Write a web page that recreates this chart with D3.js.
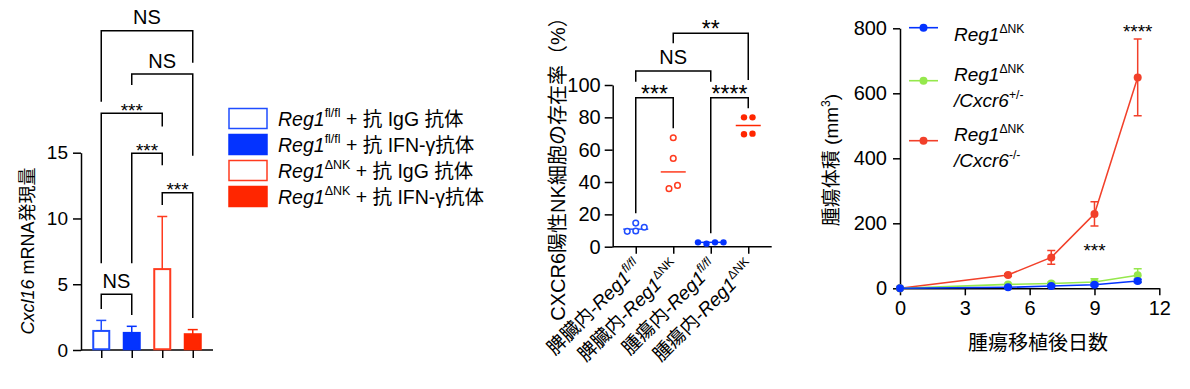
<!DOCTYPE html>
<html>
<head>
<meta charset="utf-8">
<script src="https://cdn.jsdelivr.net/npm/d3@7"></script>
<style>
  body { margin: 0; background: #fff; }
  text { font-family: 'Liberation Sans', Arial, 'Noto Sans CJK JP', sans-serif; fill: #000; }
</style>
</head>
<body>
<script>
// ---- panel 1: Cxcl16 bars ----
const barGroups = ["fl_IgG", "fl_IFN", "dNK_IgG", "dNK_IFN"];
const barMeans = [1.45, 1.3, 6.15, 1.2];
const barErrs = [0.8, 0.5, 4.0, 0.35];
const barColors = ["#1f4dff", "#0433ff", "#ff3b1f", "#ff2600"];
const barFilled = [false, true, false, true];
const barTicks = [0, 5, 10, 15];
// [from, to, label, top, leftEnd, rightEnd] in y units
const barSigs = [
  [0, 1, "NS", 4.23, 3.12, 2.66],
  [0, 2, "***", 18.0, 6.6, 17.0],
  [1, 2, "***", 14.95, 6.6, 14.04],
  [2, 3, "***", 11.96, 11.02, 2.43],
  [1, 3, "NS", 20.98, 20.15, 14.77],
  [0, 3, "NS", 24.28, 18.88, 21.84]
];
const legendRows = [
  [{t: "Reg1", i: true}, {t: "fl/fl", sup: true}, {t: " + 抗 IgG 抗体"}],
  [{t: "Reg1", i: true}, {t: "fl/fl", sup: true}, {t: " + 抗 IFN-γ抗体"}],
  [{t: "Reg1", i: true}, {t: "ΔNK", sup: true}, {t: " + 抗 IgG 抗体"}],
  [{t: "Reg1", i: true}, {t: "ΔNK", sup: true}, {t: " + 抗 IFN-γ抗体"}]
];

// ---- panel 2: CXCR6+ NK dots ----
const dotGroups = ["脾臓内-Reg1fl/fl", "脾臓内-Reg1ΔNK", "腫瘍内-Reg1fl/fl", "腫瘍内-Reg1ΔNK"];
const dotLabels = [
  [{t: "脾臓内-"}, {t: "Reg1", i: true}, {t: "fl/fl", sup: true, i: true}],
  [{t: "脾臓内-"}, {t: "Reg1", i: true}, {t: "ΔNK", sup: true}],
  [{t: "腫瘍内-"}, {t: "Reg1", i: true}, {t: "fl/fl", sup: true, i: true}],
  [{t: "腫瘍内-"}, {t: "Reg1", i: true}, {t: "ΔNK", sup: true}]
];
const dotValues = [
  [9.7, 12, 14.6, 9.5],
  [67.4, 54.6, 35.9, 37.9],
  [1.9, 2.7, 2.7, 2.7],
  [80, 80, 69.5, 69.9]
];
const dotColors = ["#1f4dff", "#ff3b1f", "#0433ff", "#ff2600"];
const dotFilled = [false, false, true, true];
const dotTicks = [0, 20, 40, 60, 80, 100];
const dotSigs = [
  [0, 1, "***", 92.1, 20.7, 73.2],
  [2, 3, "****", 92.1, 8.3, 85.6],
  [0, 2, "NS", 108.7, 102, 102],
  [1, 3, "**", 132, 125.8, 103.1]
];

// ---- panel 3: tumour volume ----
const days = [0, 5, 7, 9, 11];
const volBlue = [0, 3, 7, 11, 22.6];
const errBlue = [0, 2, 3, 4, 5];
const volGreen = [0, 12, 15, 19.5, 40];
const errGreen = [0, 3, 4, 10, 20];
const volRed = [0, 41, 95, 229, 649];
const errRed = [0, 4, 21, 37, 118];
const volTicksX = [0, 3, 6, 9, 12];
const volTicksY = [0, 200, 400, 600, 800];

const svg = d3.select("body").append("svg")
  .attr("width", 1190)
  .attr("height", 389);

// rich text: italics and superscripts
function rich(sel, parts, size) {
  let shift = 0;
  parts.forEach(p => {
    const ts = sel.append("tspan").text(p.t);
    if (p.i) ts.attr("font-style", "italic");
    const target = p.sup ? -size * 0.42 : 0;
    if (target !== shift) { ts.attr("dy", target - shift); shift = target; }
    if (p.sup) ts.attr("font-size", size * 0.64);
  });
}

function styleAxis(g, size) {
  g.selectAll("path, line").attr("stroke", "#000").attr("stroke-width", 1.5);
  g.selectAll("text").attr("font-size", size).attr("fill", "#000");
}

function brackets(g, sigs, xs, ys, fsStar, fsNS) {
  sigs.forEach(s => {
    const x1 = xs(s[0]), x2 = xs(s[1]);
    const top = ys(s[3]);
    g.append("path")
      .attr("d", `M${x1},${ys(s[4])}V${top}H${x2}V${ys(s[5])}`)
      .attr("fill", "none").attr("stroke", "#000").attr("stroke-width", 1.5);
    const ns = s[2] === "NS";
    g.append("text")
      .attr("x", (x1 + x2) / 2)
      .attr("y", ns ? top - 6.5 : top + fsStar * 0.18)
      .attr("text-anchor", "middle")
      .attr("font-size", ns ? fsNS : fsStar)
      .text(s[2]);
  });
}

// ================= panel 1 =================
const p1 = svg.append("g");
const y1 = d3.scaleLinear().domain([0, 15]).range([350, 152.7]);
const x1 = d3.scalePoint().domain(d3.range(4)).range([86, 208]).padding(0.5);
const barW = 18;

p1.append("g")
  .attr("transform", "translate(81,0)")
  .call(d3.axisLeft(y1).tickValues(barTicks).tickSize(8).tickSizeOuter(0).tickPadding(5))
  .call(g => styleAxis(g, 19));

p1.append("line").attr("x1", 81).attr("x2", 213).attr("y1", 350).attr("y2", 350)
  .attr("stroke", "#000").attr("stroke-width", 1.5);
p1.append("g")
  .attr("transform", "translate(0,350)")
  .call(d3.axisBottom(x1).tickSize(8).tickFormat(""))
  .call(g => g.select(".domain").remove())
  .call(g => styleAxis(g, 19));

barGroups.forEach((name, i) => {
  const cx = x1(i), col = barColors[i];
  // error bar (up only)
  p1.append("line").attr("x1", cx).attr("x2", cx)
    .attr("y1", y1(barMeans[i])).attr("y2", y1(barMeans[i] + barErrs[i]))
    .attr("stroke", col).attr("stroke-width", 1.5);
  p1.append("line").attr("x1", cx - 5).attr("x2", cx + 5)
    .attr("y1", y1(barMeans[i] + barErrs[i])).attr("y2", y1(barMeans[i] + barErrs[i]))
    .attr("stroke", col).attr("stroke-width", 1.5);
  p1.append("rect")
    .attr("x", cx - barW / 2 + 1).attr("width", barW - 2)
    .attr("y", y1(barMeans[i])).attr("height", y1(0) - y1(barMeans[i]) - 0.75)
    .attr("fill", barFilled[i] ? col : "#fff")
    .attr("stroke", col).attr("stroke-width", 2);
});

brackets(p1, barSigs, i => x1(i), y1, 19, 20);

p1.append("text")
  .attr("transform", "translate(34,251) rotate(-90)")
  .attr("text-anchor", "middle")
  .attr("font-size", 18)
  .call(t => rich(t, [{t: "Cxcl16", i: true}, {t: " mRNA発現量"}], 18));

// legend
legendRows.forEach((row, i) => {
  const cy = 118.5 + i * 26;
  p1.append("rect").attr("x", 229).attr("y", cy - 10).attr("width", 38).attr("height", 20)
    .attr("fill", barFilled[i] ? barColors[i] : "#fff")
    .attr("stroke", barColors[i]).attr("stroke-width", 1.5);
  p1.append("text").attr("x", 278).attr("y", cy + 7)
    .attr("font-size", 19.5)
    .call(t => rich(t, row, 19.5));
});

// ================= panel 2 =================
const p2 = svg.append("g");
const y2 = d3.scaleLinear().domain([0, 100]).range([246.7, 85]);
const x2 = d3.scalePoint().domain(d3.range(4)).range([617, 767]).padding(0.5);

p2.append("g")
  .attr("transform", "translate(612.7,0)")
  .call(d3.axisLeft(y2).tickValues(dotTicks).tickSize(8).tickSizeOuter(0).tickPadding(4))
  .call(g => styleAxis(g, 20));
p2.append("line").attr("x1", 612.7).attr("x2", 771.7).attr("y1", 246.7).attr("y2", 246.7)
  .attr("stroke", "#000").attr("stroke-width", 1.5);
p2.append("g")
  .attr("transform", "translate(0,246.7)")
  .call(d3.axisBottom(x2).tickSize(7).tickFormat(""))
  .call(g => g.select(".domain").remove())
  .call(g => styleAxis(g, 20));

// simple beeswarm offsets
const dotR = 3.2, dotStep = 8.5;
dotValues.forEach((vals, gi) => {
  const placed = [];
  vals.forEach(v => {
    const py = y2(v);
    const cands = [0, dotStep, -dotStep, 2 * dotStep, -2 * dotStep, 3 * dotStep];
    const dx = cands.find(c => placed.every(p => Math.hypot(p.dx - c, p.py - py) >= 7));
    placed.push({v, py, dx});
  });
  // centre each cluster of touching points
  const clusters = [];
  placed.forEach(p => {
    const c = clusters.find(cl => cl.some(q => Math.abs(q.py - p.py) < 7));
    if (c) c.push(p); else clusters.push([p]);
  });
  clusters.forEach(cl => {
    const m = d3.mean(cl, p => p.dx);
    cl.forEach(p => p.dx -= m);
  });
  const cx = x2(gi), col = dotColors[gi];
  const med = d3.median(vals);
  p2.append("line").attr("x1", cx - 12.5).attr("x2", cx + 12.5)
    .attr("y1", y2(med)).attr("y2", y2(med))
    .attr("stroke", col).attr("stroke-width", 1.5);
  p2.selectAll(null).data(placed).enter().append("circle")
    .attr("cx", p => cx + p.dx).attr("cy", p => p.py)
    .attr("r", dotFilled[gi] ? dotR : dotR - 0.4)
    .attr("fill", dotFilled[gi] ? col : "#fff")
    .attr("stroke", col).attr("stroke-width", dotFilled[gi] ? 0 : 1.5);
});

brackets(p2, dotSigs, i => x2(i), y2, 23, 20);

p2.append("text")
  .attr("transform", "translate(565,164) rotate(-90)")
  .attr("text-anchor", "middle")
  .attr("font-size", 20)
  .text("CXCR6陽性NK細胞の存在率（%）");

dotLabels.forEach((parts, i) => {
  p2.append("text")
    .attr("transform", `translate(${x2(i) + 7},268) rotate(-45)`)
    .attr("text-anchor", "end")
    .attr("font-size", 19)
    .call(t => rich(t, parts, 19));
});

// ================= panel 3 =================
const p3 = svg.append("g");
const x3 = d3.scaleLinear().domain([0, 12]).range([900, 1159.3]);
const y3 = d3.scaleLinear().domain([0, 800]).range([288.3, 28.3]);

p3.append("g")
  .attr("transform", "translate(900,0)")
  .call(d3.axisLeft(y3).tickValues(volTicksY).tickSize(7).tickSizeOuter(0).tickPadding(6))
  .call(g => styleAxis(g, 20));
p3.append("g")
  .attr("transform", "translate(0,288.3)")
  .call(d3.axisBottom(x3).tickValues(volTicksX).tickSize(7).tickSizeOuter(0).tickPadding(6))
  .call(g => styleAxis(g, 20));

const series = [
  {vals: volRed, errs: errRed, col: "#f2402a"},
  {vals: volGreen, errs: errGreen, col: "#95e84c"},
  {vals: volBlue, errs: errBlue, col: "#0433ff"}
];
const line3 = d3.line().x((d, i) => x3(days[i])).y(d => y3(d));
series.forEach(s => {
  p3.append("path").attr("d", line3(s.vals))
    .attr("fill", "none").attr("stroke", s.col).attr("stroke-width", 1.6);
  s.vals.forEach((v, i) => {
    if (!s.errs[i]) return;
    const cx = x3(days[i]);
    p3.append("path")
      .attr("d", `M${cx - 4},${y3(v + s.errs[i])}H${cx + 4}M${cx},${y3(v + s.errs[i])}V${y3(Math.max(0, v - s.errs[i]))}M${cx - 4},${y3(Math.max(0, v - s.errs[i]))}H${cx + 4}`)
      .attr("fill", "none").attr("stroke", s.col).attr("stroke-width", 1.5);
  });
  p3.selectAll(null).data(s.vals).enter().append("circle")
    .attr("cx", (d, i) => x3(days[i])).attr("cy", d => y3(d))
    .attr("r", 4).attr("fill", s.col);
});

p3.append("text").attr("x", x3(11)).attr("y", 38).attr("text-anchor", "middle")
  .attr("font-size", 19).text("****");
p3.append("text").attr("x", x3(9)).attr("y", 257).attr("text-anchor", "middle")
  .attr("font-size", 19).text("***");

p3.append("text")
  .attr("transform", "translate(838,160) rotate(-90)")
  .attr("text-anchor", "middle")
  .attr("font-size", 19)
  .call(t => rich(t, [{t: "腫瘍体積 (mm"}, {t: "3", sup: true}, {t: ")"}], 19));
p3.append("text").attr("x", 1038).attr("y", 350).attr("text-anchor", "middle")
  .attr("font-size", 20).text("腫瘍移植後日数");

// legend
const legend3 = [
  {col: "#0433ff", my: 27.7, lines: [[{t: "Reg1", i: true}, {t: "ΔNK", sup: true}]], base: [40.7]},
  {col: "#95e84c", my: 80.7, lines: [[{t: "Reg1", i: true}, {t: "ΔNK", sup: true}], [{t: "/Cxcr6", i: true}, {t: "+/-", sup: true}]], base: [81, 106.7]},
  {col: "#f2402a", my: 140.7, lines: [[{t: "Reg1", i: true}, {t: "ΔNK", sup: true}], [{t: "/Cxcr6", i: true}, {t: "-/-", sup: true}]], base: [141, 166.7]}
];
legend3.forEach(r => {
  p3.append("line").attr("x1", 909).attr("x2", 938).attr("y1", r.my).attr("y2", r.my)
    .attr("stroke", r.col).attr("stroke-width", 1.6);
  p3.append("circle").attr("cx", 923.5).attr("cy", r.my).attr("r", 4).attr("fill", r.col);
  r.lines.forEach((parts, k) => {
    p3.append("text").attr("x", 954).attr("y", r.base[k]).attr("font-size", 19)
      .call(t => rich(t, parts, 19));
  });
});
</script>
</body>
</html>
